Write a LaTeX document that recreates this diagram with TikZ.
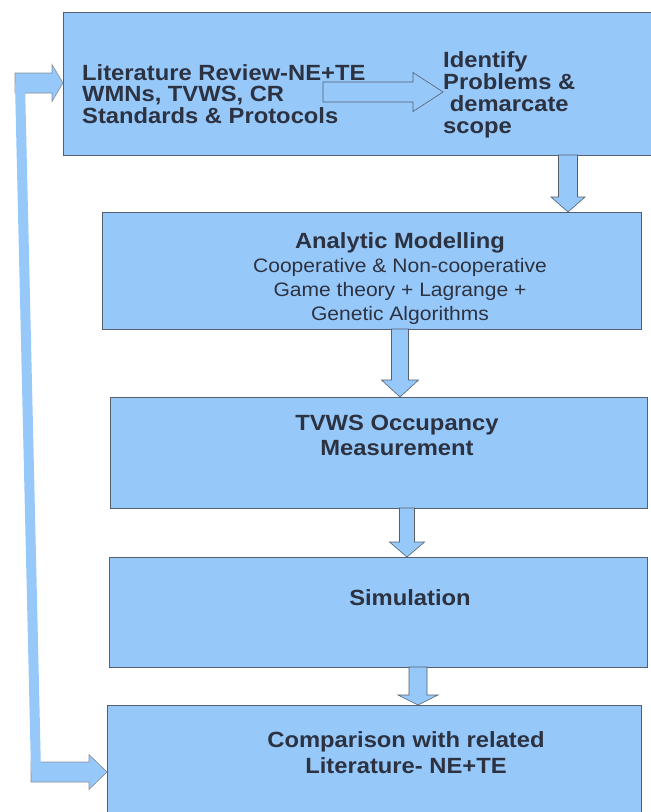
\documentclass[tikz,border=0pt]{standalone}
\usepackage{fontspec}
\setmainfont{Liberation Sans}[FakeStretch=1.08]
\usetikzlibrary{calc}
\definecolor{boxblue}{RGB}{150,200,250}
\definecolor{edgegray}{RGB}{85,95,110}
\definecolor{txtgray}{RGB}{45,50,65}

\tikzset{
  arrbar/.store in=\arrbar, arrhead/.store in=\arrhead, arrlen/.store in=\arrlen,
  arrbar=9pt, arrhead=18pt, arrlen=15pt,
  box/.style={draw=edgegray, fill=boxblue, line width=0.8pt, inner sep=0pt, outer sep=0pt, anchor=north west},
  blk/.style={draw=edgegray, fill=boxblue, line width=0.6pt},
  godown/.style={to path={let \p1=(\tikztostart), \p2=(\tikztotarget) in
    (\x1-\arrbar,\y1) -- (\x1-\arrbar,\y2+\arrlen) -- (\x1-\arrhead,\y2+\arrlen) -- (\x1,\y2)
    -- (\x1+\arrhead,\y2+\arrlen) -- (\x1+\arrbar,\y2+\arrlen) -- (\x1+\arrbar,\y1) -- cycle}},
  goright/.style={to path={let \p1=(\tikztostart), \p2=(\tikztotarget) in
    (\x1,\y1+\arrbar) -- (\x2-\arrlen,\y1+\arrbar) -- (\x2-\arrlen,\y1+\arrhead) -- (\x2,\y1)
    -- (\x2-\arrlen,\y1-\arrhead) -- (\x2-\arrlen,\y1-\arrbar) -- (\x1,\y1-\arrbar) -- cycle}},
  hd/.style={font=\fontsize{22}{22}\selectfont\bfseries, text=txtgray, inner sep=0pt},
  sub/.style={font=\fontsize{19.5}{24}\selectfont, text=txtgray, inner sep=0pt},
}

\begin{document}
\begin{tikzpicture}[x=1pt,y=-1pt]
\useasboundingbox (0,0) rectangle (651,812);
\fill[white] (0,0) rectangle (651,812);
\clip (0,0) rectangle (651,812);

% boxes
\node[box, minimum width=600pt, minimum height=143pt] (box1) at (63,12) {};
\node[box, minimum width=539pt, minimum height=117pt] (box2) at (102,212) {};
\node[box, minimum width=537pt, minimum height=111pt] (box3) at (110,397) {};
\node[box, minimum width=538pt, minimum height=110pt] (box4) at (109,557) {};
\node[box, minimum width=534pt, minimum height=130pt] (box5) at (107,705) {};

% texts (base = last line)
\node[hd, align=left, anchor=base west, font=\fontsize{22}{21.5}\selectfont\bfseries] (lit) at (82,123) {Literature Review-NE+TE\\WMNs, TVWS, CR\\Standards \& Protocols};
\node[hd, align=left, anchor=base west] (ident) at (443,133) {Identify\\Problems \&\\\ demarcate\\scope};
\node[hd, anchor=base] (anl) at (400,248) {Analytic Modelling};
\node[sub, align=center, anchor=base] (anlsub) at (400,320) {Cooperative \& Non-cooperative\\Game theory + Lagrange +\\Genetic Algorithms};
\node[hd, align=center, anchor=base, font=\fontsize{22}{25}\selectfont\bfseries] (tvws) at (397,455) {TVWS Occupancy\\Measurement};
\node[hd, anchor=base] (sim) at (410,605) {Simulation};
\node[hd, align=center, anchor=base, font=\fontsize{22}{26}\selectfont\bfseries] (cmp) at (406,773) {Comparison with related\\Literature- NE+TE};

% block arrows
\coordinate (ia) at (323,92);
\draw[blk, goright, arrbar=10pt, arrhead=19.5pt, arrlen=30pt] (ia) to (ia -| ident.west);

\coordinate (d1) at (568,0);
\coordinate (d2) at (400,0);
\coordinate (d3) at (407,0);
\coordinate (d4) at (418,0);
\draw[blk, godown, arrbar=9.5pt, arrhead=17pt, arrlen=15pt] (d1 |- box1.south) to (d1 |- box2.north);
\draw[blk, godown, arrbar=8.5pt, arrhead=18.5pt, arrlen=17pt] (d2 |- box2.south) to (d2 |- box3.north);
\draw[blk, godown, arrbar=7.5pt, arrhead=17.5pt, arrlen=15pt] (d3 |- box3.south) to (d3 |- box4.north);
\draw[blk, godown, arrbar=9pt, arrhead=20pt, arrlen=10pt] (d4 |- box4.south) to (d4 |- box5.north);

% feedback loop
\coordinate (lt) at (15,83);
\coordinate (lb) at (31,772);
\draw[blk, draw=edgegray!70, goright, arrbar=10pt, arrhead=18.5pt, arrlen=11pt] (lt) to (lt -| box1.west);
\draw[blk, draw=edgegray!70, goright, arrbar=10pt, arrhead=17.5pt, arrlen=18pt] (lb) to (lb -| box5.west);
\coordinate (lt2) at (20,83);
\coordinate (lb2) at (36,772);
\draw[boxblue, line width=10pt] (lt2) -- (lb2);

\end{tikzpicture}
\end{document}
